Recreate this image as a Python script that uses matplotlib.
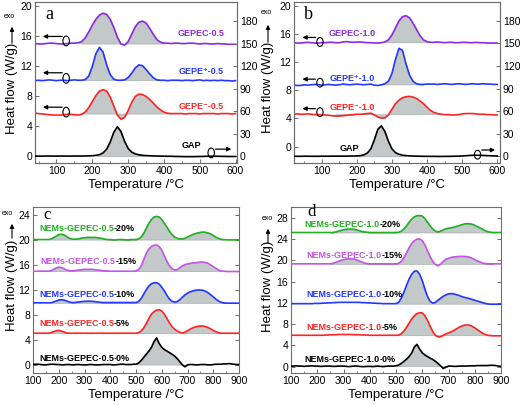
import numpy as np
import matplotlib
matplotlib.use("Agg")
import matplotlib.pyplot as plt
from matplotlib.patches import Ellipse, FancyArrowPatch
from matplotlib.ticker import MultipleLocator

plt.rcParams['font.family'] = ['Liberation Sans', 'DejaVu Sans']

# ---------------- data ----------------
temp_a = list(range(40, 610, 10))
gepec_05 = [15.05, 15.0, 15.0, 15.05, 15.1, 15.1, 15.05, 15.0, 15.0, 15.05,
            15.1, 15.1, 15.15, 15.3, 15.8, 16.6, 17.5, 18.3, 18.85, 19.1,
            18.95, 18.3, 17.2, 15.9, 15.0, 14.85, 15.3, 16.3, 17.3, 17.9,
            18.05, 17.8, 17.1, 16.3, 15.6, 15.25, 15.1, 15.1, 15.05, 15.1,
            15.1, 15.05, 15.05, 15.1, 15.1, 15.05, 15.0, 15.05, 15.05, 15.0,
            15.0, 15.05, 15.0, 15.0, 14.95, 14.95, 14.95]
gepe_p_05 = [10.1, 10.15, 10.1, 10.15, 10.2, 10.15, 10.1, 10.15, 10.15, 10.1,
             10.15, 10.2, 10.15, 10.15, 10.25, 10.7, 12.0, 13.7, 14.55, 13.9,
             12.2, 10.9, 10.3, 10.15, 10.15, 10.2, 10.5, 11.1, 11.8, 12.2,
             12.1, 11.6, 11.0, 10.5, 10.2, 10.15, 10.15, 10.1, 10.15, 10.15,
             10.15, 10.1, 10.15, 10.15, 10.1, 10.15, 10.2, 10.1, 10.15, 10.1,
             10.15, 10.1, 10.15, 10.1, 10.1, 10.05, 10.1]
gepe_m_05 = [5.75, 5.7, 5.65, 5.6, 5.55, 5.5, 5.5, 5.5, 5.55, 5.6,
             5.6, 5.55, 5.5, 5.6, 5.9, 6.5, 7.3, 8.1, 8.7, 8.9,
             8.7, 7.9, 6.7, 5.5, 4.95, 5.2, 6.1, 7.2, 8.0, 8.3,
             8.25, 8.0, 7.6, 7.1, 6.6, 6.2, 5.9, 5.75, 5.7, 5.7,
             5.7, 5.7, 5.65, 5.7, 5.7, 5.7, 5.65, 5.7, 5.7, 5.7,
             5.7, 5.65, 5.7, 5.7, 5.7, 5.65, 5.7]
gap_a = [0.3, 0.2, 0.2, 0.3, 0.3, 0.2, 0.2, 0.3, 0.3, 0.2,
         0.2, 0.3, 0.3, 0.3, 0.4, 0.5, 0.7, 1.2, 2.2, 4.5,
         9.5, 19.0, 32.0, 39.5, 33.0, 20.0, 10.5, 5.5, 3.2, 2.0,
         1.3, 0.9, 0.6, 0.4, 0.3, 0.2, 0.1, 0.0, 0.0, -0.2,
         -0.3, -0.4, -0.5, -0.5, -0.5, -0.4, -0.3, -0.2, 0.0, 0.0,
         0.1, 0.0, -0.1, -0.2, -0.3, -0.3, -0.3]

temp_b = list(range(20, 610, 10))
gepec_10 = [14.8, 14.75, 14.75, 14.8, 14.85, 14.8, 14.75, 14.75, 14.8, 14.8,
            14.85, 14.85, 14.8, 14.8, 14.9, 14.95, 14.9, 14.85, 14.9, 14.9,
            14.85, 14.8, 14.8, 14.75, 14.75, 14.8, 14.9, 15.2, 15.9, 16.9,
            17.9, 18.5, 18.65, 18.35, 17.6, 16.7, 15.8, 15.2, 14.95, 14.85,
            14.85, 14.9, 14.85, 14.8, 14.85, 14.85, 14.8, 14.8, 14.85, 14.85,
            14.8, 14.8, 14.85, 14.8, 14.8, 14.75, 14.75, 14.75, 14.75]
gepe_p_10 = [8.75, 8.7, 8.7, 8.8, 8.75, 8.8, 8.85, 8.8, 8.75, 8.8,
             8.85, 8.8, 8.75, 8.8, 8.9, 8.85, 8.8, 8.85, 8.9, 8.85,
             8.8, 8.85, 8.9, 8.75, 8.7, 8.8, 8.95, 9.3, 10.4, 12.4,
             14.0, 13.7, 11.8, 10.2, 9.3, 8.95, 8.85, 8.85, 8.9, 8.9,
             8.9, 8.85, 8.9, 8.95, 8.9, 8.85, 8.9, 8.95, 8.9, 8.85,
             8.9, 8.95, 8.9, 8.9, 8.95, 8.9, 8.9, 8.85, 8.85]
gepe_m_10 = [4.6, 4.65, 4.6, 4.6, 4.65, 4.6, 4.55, 4.55, 4.5, 4.5,
             4.45, 4.4, 4.35, 4.35, 4.4, 4.45, 4.5, 4.55, 4.6, 4.6,
             4.65, 4.7, 4.75, 4.5, 4.2, 4.05, 4.1, 4.5, 5.3, 6.1,
             6.6, 6.95, 7.1, 7.15, 7.05, 6.85, 6.5, 6.1, 5.6, 5.15,
             4.85, 4.7, 4.6, 4.55, 4.55, 4.5, 4.5, 4.55, 4.65, 4.7,
             4.7, 4.7, 4.65, 4.6, 4.6, 4.55, 4.55, 4.5, 4.5]
gap_b = [0.2, 0.1, 0.1, 0.2, 0.2, 0.1, 0.1, 0.1, 0.2, 0.2,
         0.2, 0.3, 0.3, 0.3, 0.3, 0.3, 0.4, 0.5, 0.6, 1.0,
         2.0, 4.5, 10.0, 22.0, 36.0, 40.5, 33.0, 20.0, 10.0, 5.0,
         2.8, 1.6, 1.0, 0.6, 0.4, 0.3, 0.2, 0.1, 0.0, 0.0,
         0.0, -0.1, -0.1, 0.0, 0.0, 0.1, 0.2, 0.3, 0.5, 0.8,
         1.2, 1.4, 1.5, 1.4, 1.2, 1.0, 0.8, 0.6, 0.5]

temp_cd = list(range(100, 910, 10))
c_20 = [20.0, 20.0, 20.0, 20.0, 20.0, 20.0, 20.0, 20.1, 20.3, 20.55,
        20.8, 20.85, 20.75, 20.5, 20.25, 20.1, 20.05, 20.1, 20.15, 20.25,
        20.3, 20.35, 20.35, 20.35, 20.35, 20.3, 20.25, 20.15, 20.05, 20.0,
        20.0, 19.95, 19.95, 20.0, 20.0, 20.0, 19.95, 19.95, 20.0, 20.0,
        20.0, 20.1, 20.4, 21.0, 21.8, 22.6, 23.2, 23.6, 23.7, 23.6,
        23.2, 22.6, 22.0, 21.3, 20.8, 20.4, 20.2, 20.1, 20.1, 20.2,
        20.4, 20.6, 20.8, 20.95, 21.05, 21.15, 21.2, 21.15, 21.05, 20.9,
        20.65, 20.4, 20.2, 20.05, 20.0, 19.95, 19.95, 19.95, 19.95, 19.95,
        19.95]
c_15 = [14.95, 14.95, 14.95, 14.95, 14.95, 14.95, 14.95, 15.05, 15.25, 15.45,
        15.6, 15.55, 15.35, 15.15, 15.05, 15.0, 15.05, 15.1, 15.15, 15.2,
        15.25, 15.25, 15.25, 15.25, 15.2, 15.15, 15.1, 15.05, 15.0, 15.0,
        14.95, 14.95, 14.95, 14.95, 14.95, 14.95, 14.95, 14.95, 14.95, 14.95,
        15.0, 15.2, 15.8, 16.8, 17.8, 18.5, 18.9, 19.1, 19.15, 18.9,
        18.3, 17.4, 16.5, 15.8, 15.35, 15.15, 15.2, 15.5, 15.8, 16.0,
        16.1, 16.2, 16.25, 16.3, 16.35, 16.4, 16.4, 16.35, 16.2, 15.95,
        15.7, 15.4, 15.15, 15.0, 14.95, 14.9, 14.9, 14.9, 14.9, 14.9,
        14.9]
c_10 = [9.9, 9.9, 9.9, 9.9, 9.9, 9.9, 9.9, 9.9, 10.05, 10.2,
        10.35, 10.4, 10.35, 10.2, 10.05, 9.95, 9.95, 10.0, 10.05, 10.1,
        10.15, 10.15, 10.15, 10.15, 10.1, 10.05, 10.0, 9.95, 9.95, 9.95,
        9.95, 9.95, 9.95, 9.95, 9.95, 9.95, 9.95, 9.95, 9.95, 9.95,
        9.95, 10.1, 10.6, 11.3, 12.0, 12.6, 12.95, 13.1, 13.1, 12.9,
        12.4, 11.8, 11.1, 10.5, 10.15, 10.0, 10.1, 10.4, 10.8, 11.15,
        11.45, 11.65, 11.8, 11.9, 11.95, 11.95, 11.9, 11.75, 11.5, 11.2,
        10.85, 10.5, 10.2, 10.0, 9.9, 9.85, 9.85, 9.85, 9.85, 9.85,
        9.85]
c_5 = [5.05, 5.05, 5.05, 5.05, 5.05, 5.05, 5.05, 5.15, 5.3, 5.45,
       5.5, 5.4, 5.25, 5.1, 5.05, 5.05, 5.05, 5.05, 5.05, 5.05,
       5.05, 5.05, 5.05, 5.05, 5.05, 5.05, 5.05, 5.05, 5.05, 5.05,
       5.05, 5.05, 5.05, 5.05, 5.05, 5.05, 5.05, 5.05, 5.05, 5.05,
       5.05, 5.15, 5.4, 5.9, 6.6, 7.4, 8.1, 8.5, 8.75, 8.8,
       8.6, 8.1, 7.4, 6.7, 6.1, 5.7, 5.4, 5.2, 5.1, 5.2,
       5.45, 5.7, 5.9, 6.05, 6.15, 6.2, 6.2, 6.1, 5.95, 5.75,
       5.5, 5.3, 5.15, 5.05, 5.05, 5.05, 5.05, 5.05, 5.05, 5.05,
       5.05]
c_0 = [0.05, 0.1, 0.1, 0.05, 0.0, 0.0, 0.05, 0.1, 0.1, 0.05,
       0.05, 0.0, 0.0, 0.05, 0.05, 0.0, 0.0, 0.05, 0.05, 0.0,
       0.0, 0.0, 0.05, 0.05, 0.0, 0.0, 0.0, 0.05, 0.05, 0.05,
       0.05, 0.0, 0.0, 0.05, 0.1, 0.1, 0.05, 0.05, 0.05, 0.1,
       0.1, 0.3, 0.7, 1.2, 1.7, 2.2, 2.8, 3.7, 4.3, 3.4,
       2.8, 2.45, 2.2, 1.95, 1.7, 1.4, 1.0, 0.5, 0.0, -0.3,
       0.0, 0.05, 0.05, 0.0, 0.0, 0.05, 0.05, 0.05, 0.0, 0.0,
       0.05, 0.1, 0.1, 0.1, 0.15, 0.15, 0.2, 0.15, 0.1, 0.05,
       0.05]

d_20 = [25.25, 25.25, 25.25, 25.25, 25.25, 25.25, 25.25, 25.25, 25.25, 25.25,
        25.25, 25.25, 25.25, 25.25, 25.25, 25.25, 25.25, 25.35, 25.5, 25.65,
        25.75, 25.85, 25.9, 25.9, 25.85, 25.75, 25.6, 25.45, 25.35, 25.3,
        25.25, 25.25, 25.25, 25.25, 25.25, 25.25, 25.25, 25.25, 25.25, 25.25,
        25.25, 25.3, 25.5, 25.9, 26.5, 27.2, 27.8, 28.2, 28.4, 28.45,
        28.35, 27.9, 27.2, 26.5, 25.9, 25.5, 25.35, 25.5, 25.75, 25.95,
        26.05, 26.15, 26.25, 26.4, 26.55, 26.7, 26.85, 26.9, 26.9, 26.8,
        26.6, 26.35, 26.1, 25.85, 25.6, 25.4, 25.3, 25.25, 25.25, 25.25,
        25.25]
d_15 = [19.35, 19.35, 19.35, 19.35, 19.35, 19.35, 19.35, 19.35, 19.35, 19.35,
        19.35, 19.35, 19.35, 19.35, 19.35, 19.35, 19.45, 19.6, 19.8, 20.0,
        20.15, 20.25, 20.3, 20.3, 20.25, 20.1, 19.9, 19.7, 19.5, 19.4,
        19.35, 19.35, 19.35, 19.35, 19.35, 19.35, 19.35, 19.35, 19.35, 19.35,
        19.35, 19.45, 19.8, 20.5, 21.4, 22.4, 23.2, 23.7, 24.0, 24.05,
        23.7, 22.9, 21.8, 20.7, 19.8, 19.2, 19.0, 19.3, 19.8, 20.2,
        20.4, 20.55, 20.65, 20.7, 20.75, 20.75, 20.75, 20.7, 20.6, 20.4,
        20.15, 19.9, 19.7, 19.5, 19.4, 19.35, 19.35, 19.35, 19.35, 19.35,
        19.35]
d_10 = [11.85, 11.85, 11.85, 11.85, 11.85, 11.85, 11.85, 11.85, 11.85, 11.9,
        11.9, 11.9, 11.95, 11.95, 12.0, 12.0, 12.05, 12.05, 12.1, 12.1,
        12.1, 12.1, 12.1, 12.1, 12.1, 12.1, 12.1, 12.05, 12.05, 12.0,
        12.0, 11.95, 11.95, 11.9, 11.9, 11.85, 11.85, 11.85, 11.85, 11.85,
        11.85, 12.1, 12.9, 14.0, 15.3, 16.5, 17.4, 17.95, 18.0, 17.4,
        16.2, 14.6, 13.2, 12.3, 11.95, 12.1, 12.5, 12.9, 13.25, 13.5,
        13.7, 13.75, 13.7, 13.55, 13.4, 13.2, 13.05, 12.95, 12.8, 12.65,
        12.5, 12.35, 12.2, 12.05, 11.9, 11.8, 11.75, 11.75, 11.75, 11.75,
        11.75]
d_5 = [5.9, 5.9, 5.9, 5.9, 5.9, 5.9, 5.9, 5.9, 5.9, 5.9,
       5.9, 5.9, 5.9, 5.95, 5.95, 6.0, 6.0, 6.0, 6.05, 6.05,
       6.05, 6.05, 6.05, 6.05, 6.0, 6.0, 6.0, 5.95, 5.95, 5.95,
       5.9, 5.9, 5.9, 5.9, 5.9, 5.9, 5.9, 5.9, 5.9, 5.9,
       5.9, 5.95, 6.2, 6.7, 7.4, 8.2, 9.0, 9.6, 10.0, 10.15,
       10.1, 9.6, 8.7, 7.6, 6.6, 5.9, 5.6, 5.65, 5.9, 6.15,
       6.35, 6.55, 6.8, 7.1, 7.4, 7.65, 7.8, 7.85, 7.8, 7.6,
       7.3, 6.95, 6.6, 6.3, 6.05, 5.9, 5.85, 5.8, 5.8, 5.8,
       5.8]
d_0 = [0.1, 0.1, 0.15, 0.1, 0.1, 0.05, 0.1, 0.1, 0.15, 0.1,
       0.1, 0.05, 0.05, 0.1, 0.1, 0.1, 0.05, 0.05, 0.1, 0.1,
       0.1, 0.05, 0.0, 0.05, 0.1, 0.1, 0.05, 0.0, 0.0, 0.05,
       0.05, 0.0, 0.05, 0.1, 0.05, 0.0, 0.05, 0.1, 0.1, 0.1,
       0.15, 0.3, 0.6, 1.0, 1.4, 1.9, 2.6, 3.7, 4.2, 3.3,
       2.6, 2.2, 1.9, 1.6, 1.35, 1.0, 0.6, 0.15, -0.35, -0.1,
       0.1, 0.1, 0.05, 0.05, 0.1, 0.1, 0.1, 0.1, 0.15, 0.15,
       0.15, 0.2, 0.2, 0.2, 0.2, 0.2, 0.25, 0.25, 0.2, 0.1,
       0.05]

nem_pct = ['20%', '15%', '10%', '5%', '0%']

PURPLE = '#8a2be2'
BLUE = '#2438ff'
RED = '#ff2424'
GREEN = '#20b020'
VIOLET = '#c655e8'
FILL = '#c3c9c9'
SPINE = '#6e6e6e'

W, H = 520, 405
fig = plt.figure(figsize=(W / 100, H / 100), dpi=100)


def rect(l, t, r, b):
    return [l / W, 1 - b / H, (r - l) / W, (b - t) / H]


def style(ax, right=True):
    for s in ax.spines.values():
        s.set_color(SPINE)
        s.set_linewidth(0.8)
    ax.tick_params(direction='in', length=3, width=0.7, labelsize=7.5,
                   color=SPINE, pad=2, right=right, top=False)
    ax.tick_params(which='minor', direction='in', length=1.5, width=0.6,
                   color=SPINE, right=False, left=False, top=False)
    ax.xaxis.set_minor_locator(MultipleLocator(50))


def curve(ax, x, y, color, base, lo, hi):
    x = np.asarray(x, float)
    y = np.asarray(y, float)
    m = (x >= lo) & (x <= hi)
    ax.fill_between(x, y, base, where=m, interpolate=True,
                    facecolor=FILL, edgecolor='#9ea4a4', lw=0.4, zorder=1)
    ax.plot(x, y, color=color, lw=1.2, zorder=3)


def marker(ax, x, y, w, h, ax_from, ax_to, ay):
    ax.add_patch(Ellipse((x, y), w, h, fill=False, ec='k', lw=0.8, zorder=5))
    ax.annotate('', xy=(ax_to, ay), xytext=(ax_from, ay),
                arrowprops=dict(arrowstyle='-|>', color='k', lw=0.9,
                                mutation_scale=6, shrinkA=0, shrinkB=0),
                zorder=5)


def heat_label(xc, yc, yarrow0, yarrow1, exo_xy):
    fig.text(xc / W, 1 - yc / H, 'Heat flow (W/g)', rotation=90,
             ha='center', va='center', fontsize=9.5)
    fig.add_artist(FancyArrowPatch((xc / W, 1 - yarrow0 / H),
                                   (xc / W, 1 - yarrow1 / H),
                                   transform=fig.transFigure,
                                   arrowstyle='-|>', mutation_scale=6,
                                   lw=0.8, color='k'))
    fig.text(exo_xy[0] / W, 1 - exo_xy[1] / H, 'exo', fontsize=5,
             ha='center', va='center')


def two_tone(ax, x, y, first, second, color):
    t = ax.text(x, y, first, color=color, fontsize=6.5, fontweight='bold',
                ha='left', va='center')
    ax.annotate(second, xy=(1, 0.5), xycoords=t, va='center', ha='left',
                fontsize=6.5, fontweight='bold', color='k')


# ---------------- panel a ----------------
ax = fig.add_axes(rect(35, 2, 237, 163))
style(ax, right=False)
ax.set_xlim(40, 604)
ax.set_ylim(-0.9, 20.6)
ax.set_xticks(range(100, 700, 100))
ax.set_yticks(range(0, 24, 4))
curve(ax, temp_a, gepec_05, PURPLE, 15.05, 170, 405)
curve(ax, temp_a, gepe_p_05, BLUE, 10.15, 175, 380)
curve(ax, temp_a, gepe_m_05, RED, 5.7, 170, 415)
axr = ax.twinx()
style(axr)
axr.tick_params(left=False, right=True)
axr.set_ylim(-9, 206)
axr.set_yticks(range(0, 210, 30))
curve(axr, temp_a, gap_a, 'k', 0.0, 215, 345)
ax.text(503, 16.4, 'GEPEC-0.5', color=PURPLE, fontsize=6.5,
        fontweight='bold', ha='center', va='center')
ax.text(503, 11.3, 'GEPE\u207a-0.5', color=BLUE, fontsize=6.5,
        fontweight='bold', ha='center', va='center')
ax.text(503, 6.65, 'GEPE\u207b-0.5', color=RED, fontsize=6.5,
        fontweight='bold', ha='center', va='center')
ax.text(478, 1.4, 'GAP', color='k', fontsize=6.5, fontweight='bold',
        ha='center', va='center')
for yb, ya in [(15.4, 16.0), (10.4, 11.15), (5.9, 6.55)]:
    marker(ax, 127, yb, 18, 1.3, 116, 62, ya)
marker(ax, 532, 0.45, 18, 1.3, 544, 588, 0.95)
ax.text(0.05, 0.92, 'a', transform=ax.transAxes, fontsize=13,
        family='Liberation Serif', ha='left', va='center')
ax.set_xlabel('Temperature /\u00b0C', fontsize=9.5, labelpad=2)
heat_label(12, 88, 46, 24, (9, 17))

# ---------------- panel b ----------------
ax = fig.add_axes(rect(294, 2, 500, 163))
style(ax, right=False)
ax.set_xlim(21, 608)
ax.set_ylim(-2.35, 20.6)
ax.set_xticks(range(100, 700, 100))
ax.set_yticks(range(0, 24, 4))
curve(ax, temp_b, gepec_10, PURPLE, 14.85, 285, 405)
curve(ax, temp_b, gepe_p_10, BLUE, 8.85, 270, 385)
curve(ax, temp_b, gepe_m_10, RED, 4.6, 140, 430)
axr = ax.twinx()
style(axr)
axr.tick_params(left=False, right=True)
axr.set_ylim(-8.8, 204.8)
axr.set_yticks(range(0, 210, 30))
curve(axr, temp_b, gap_b, 'k', 0.0, 210, 335)
ax.text(187, 16.1, 'GEPEC-1.0', color=PURPLE, fontsize=6.5,
        fontweight='bold', ha='center', va='center')
ax.text(187, 9.7, 'GEPE\u207a-1.0', color=BLUE, fontsize=6.5,
        fontweight='bold', ha='center', va='center')
ax.text(187, 5.6, 'GEPE\u207b-1.0', color=RED, fontsize=6.5,
        fontweight='bold', ha='center', va='center')
ax.text(180, -0.33, 'GAP', color='k', fontsize=6.5, fontweight='bold',
        ha='center', va='center')
for yb, ya in [(14.9, 15.55), (9.1, 9.6), (4.9, 5.4)]:
    marker(ax, 95, yb, 18, 1.25, 82, 45, ya)
marker(ax, 544, -1.17, 18, 1.25, 556, 594, -0.5)
ax.text(0.05, 0.92, 'b', transform=ax.transAxes, fontsize=13,
        family='Liberation Serif', ha='left', va='center')
ax.set_xlabel('Temperature /\u00b0C', fontsize=9.5, labelpad=2)
heat_label(268, 87, 45, 22, (266, 13))

# ---------------- panels c and d ----------------
panels = [
    (rect(33, 207, 239, 373), (-1.3, 25.2), range(0, 28, 4), '0.5',
     [c_20, c_15, c_10, c_5, c_0],
     [20.0, 14.95, 9.9, 5.05, 0.05],
     [(160, 840), (160, 840), (170, 850), (160, 835), (505, 690)],
     [(124, 21.7), (130, 16.5), (124, 11.3), (124, 6.6), (124, 1.05)],
     'c', (0.05, 0.95), (12, 285, 241, 221, (7, 214))),
    (rect(291, 207, 501, 373), (-1.2, 30.05), range(0, 32, 4), '1.0',
     [d_20, d_15, d_10, d_5, d_0],
     [25.25, 19.35, 11.85, 5.9, 0.1],
     [(250, 870), (245, 860), (500, 870), (500, 860), (505, 695)],
     [(152, 26.7), (158, 21.0), (158, 13.6), (158, 7.3), (152, 1.3)],
     'd', (0.08, 0.972), (268, 286, 246, 226, (267, 219))),
]
colors = [GREEN, VIOLET, BLUE, RED, 'k']
for (r, ylim, yt, tag, series, bases, spans, lpos, letter, lxy,
     hl) in panels:
    ax = fig.add_axes(r)
    style(ax, right=True)
    ax.tick_params(labelright=False)
    ax.set_xlim(100, 900)
    ax.set_ylim(*ylim)
    ax.set_xticks(range(100, 1000, 100))
    ax.set_yticks(list(yt))
    for y, c, b, (lo, hi), (tx, ty), pct in zip(series, colors, bases,
                                                spans, lpos, nem_pct):
        curve(ax, temp_cd, y, c, b, lo, hi)
        two_tone(ax, tx, ty, 'NEMs-GEPEC-' + tag, '-' + pct, c)
    ax.text(lxy[0], lxy[1], letter, transform=ax.transAxes, fontsize=12,
            family='Liberation Serif', ha='left', va='center')
    ax.set_xlabel('Temperature /\u00b0C', fontsize=9.5, labelpad=2)
    heat_label(*hl)

fig.savefig('out.png', dpi=100)
